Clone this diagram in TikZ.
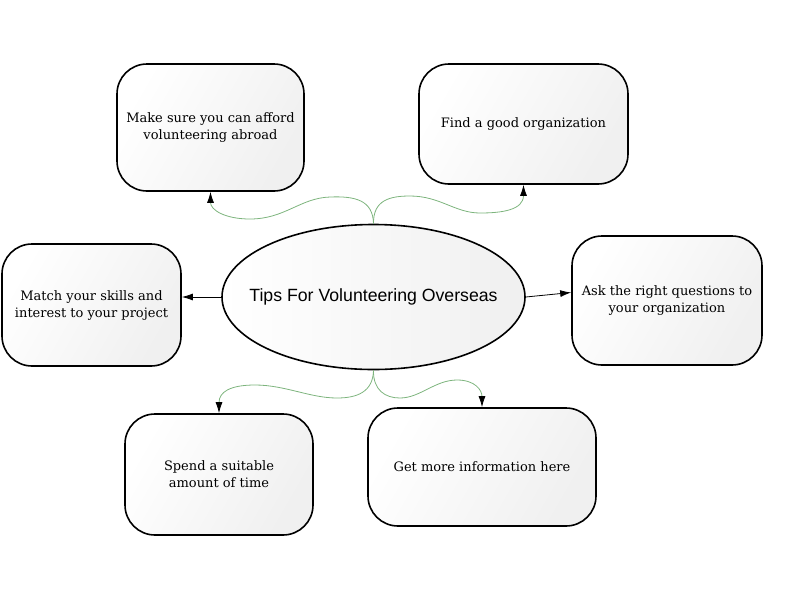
\documentclass[tikz,border=0pt]{standalone}
\usepackage{fontspec}
\setmainfont{DejaVu Serif}
\newfontfamily\titlefont{Liberation Sans}
\usetikzlibrary{shapes.geometric,arrows.meta,calc}
\definecolor{linkgreen}{RGB}{125,180,125}
\tikzset{
  softshade/.style={left color=white, middle color=white, right color=black!6,
    shading angle=60},
  tipbox/.style={draw=black, line width=1.6pt, rounded corners=30pt,
    softshade, align=center, inner sep=0pt,
    font=\fontsize{13}{17}\selectfont},
  centre/.style={ellipse, draw=black, line width=1.6pt,
    left color=white, right color=black!6, inner sep=0pt,
    minimum width=303pt, minimum height=145pt},
  curvelink/.style={draw=linkgreen, line width=0.8pt,
    -{Latex[length=11pt,width=7pt,color=black]}},
  straightlink/.style={draw=black, line width=0.8pt,
    -{Latex[length=11pt,width=7pt,color=black]}}
}
\begin{document}
\begin{tikzpicture}[x=1pt,y=-1pt]
\useasboundingbox (0,0) rectangle (800,600);
\node[centre] (c) at (373.5,297)
  {\makebox[0pt]{\titlefont\fontsize{17.7}{20}\selectfont Tips For Volunteering Overseas}};
\node[tipbox, minimum width=187pt, minimum height=127pt] (b1) at (210.5,127.5)
  {Make sure you can afford\\volunteering abroad};
\node[tipbox, minimum width=209pt, minimum height=120pt] (b2) at (523.5,124)
  {Find a good organization};
\node[tipbox, minimum width=179pt, minimum height=122pt] (b3) at (91.5,305)
  {Match your skills and\\interest to your project};
\node[tipbox, minimum width=190pt, minimum height=129pt] (b4) at (667,300.5)
  {Ask the right questions to\\your organization};
\node[tipbox, minimum width=188pt, minimum height=121pt] (b5) at (219,474.5)
  {Spend a suitable\\amount of time};
\node[tipbox, minimum width=228pt, minimum height=118pt] (b6) at (482,467)
  {Get more information here};
% curved connectors
\draw[curvelink] (c.north) .. controls (373,200) and (355,196) .. (330,197)
  .. controls (300,198) and (285,219) .. (250,219)
  .. controls (225,219) and (210.5,210) .. (b1.south);
\draw[curvelink] (c.north) .. controls (373,200) and (390,196) .. (410,196)
  .. controls (440,196) and (455,213) .. (480,213)
  .. controls (502,213) and (523.5,210) .. (b2.south);
\draw[curvelink] (c.south) .. controls (373,392) and (357,398) .. (337,398)
  .. controls (310,398) and (285,385) .. (255,385)
  .. controls (230,385) and (219,392) .. (b5.north);
\draw[curvelink] (c.south) .. controls (373,390) and (385,398) .. (400,398)
  .. controls (420,398) and (435,380) .. (457,380)
  .. controls (475,380) and (482,390) .. (b6.north);
% straight connectors
\draw[straightlink] (c.west) -- (c.west -| b3.east);
\draw[straightlink] (c.east) -- ($(b4.west)+(0,-8)$);
\end{tikzpicture}
\end{document}
